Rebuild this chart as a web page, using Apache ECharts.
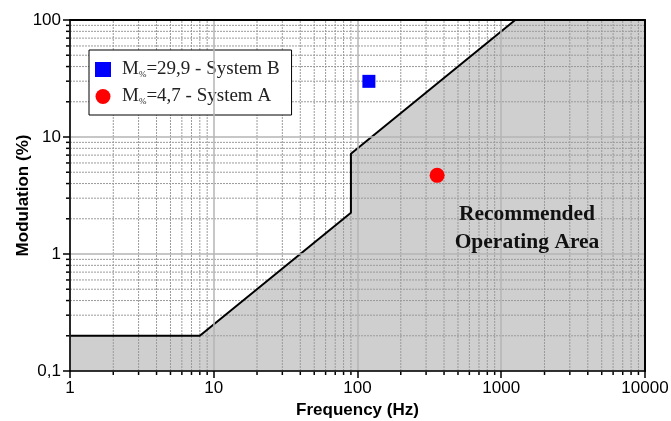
<!DOCTYPE html>
<html>
<head>
    <meta charset="utf-8">
    <title>Modulation vs Frequency</title>
    <script src="https://cdn.jsdelivr.net/npm/echarts@6.0.0/dist/echarts.min.js"></script>
    <style>
        html, body { margin: 0; padding: 0; background: #fff; }
        #main { width: 671px; height: 421px; }
    </style>
</head>
<body>
<div id="main"></div>
<script>
    // boundary of the recommended operating area
    var boundaryFreq = [1, 8, 90, 90, 1250, 10000];
    var boundaryMod = [0.2, 0.2, 2.25, 7.2, 100, 100];

    // measured systems
    var systemNames = ['=29,9 - System B', '=4,7 - System A'];
    var systemFreq = [120, 358];
    var systemMod = [29.9, 4.7];
    var systemColors = ['#0000ff', '#ff0000'];

    // minor grid values
    var steps = [2, 3, 4, 5, 6, 7, 8, 9];
    var xDecades = [1, 10, 100, 1000];
    var yDecades = [0.1, 1, 10];

    var xMinor = [];
    xDecades.forEach(function (d) { steps.forEach(function (s) { xMinor.push([d * s, 1]); }); });
    var yMinor = [];
    yDecades.forEach(function (d) { steps.forEach(function (s) { yMinor.push([1, +(d * s).toPrecision(3)]); }); });

    var boundary = boundaryFreq.map(function (f, i) { return [f, boundaryMod[i]]; });

    var chart = echarts.init(document.getElementById('main'));

    function minorX(params, api) {
        var v = api.value(0);
        var p0 = api.coord([v, 0.1]);
        var p1 = api.coord([v, 100]);
        return {
            type: 'group',
            children: [
                { type: 'line', shape: { x1: p0[0], y1: p0[1], x2: p1[0], y2: p1[1] },
                  style: { stroke: '#9a9a9a', lineWidth: 1, lineDash: [2, 1] } },
                { type: 'line', shape: { x1: p0[0], y1: p0[1], x2: p0[0], y2: p0[1] + 4 },
                  style: { stroke: '#000', lineWidth: 1.5 } }
            ]
        };
    }
    function minorY(params, api) {
        var v = api.value(1);
        var p0 = api.coord([1, v]);
        var p1 = api.coord([10000, v]);
        return {
            type: 'group',
            children: [
                { type: 'line', shape: { x1: p0[0], y1: p0[1], x2: p1[0], y2: p1[1] },
                  style: { stroke: '#9a9a9a', lineWidth: 1, lineDash: [2, 1] } },
                { type: 'line', shape: { x1: p0[0] - 4, y1: p0[1], x2: p0[0], y2: p0[1] },
                  style: { stroke: '#000', lineWidth: 1.5 } }
            ]
        };
    }

    var series = [
        {
            name: 'area', type: 'line', data: boundary, symbol: 'none', silent: true, z: 1,
            lineStyle: { width: 0 },
            areaStyle: { color: '#cfcfcf', opacity: 1, origin: 'start' }
        },
        { type: 'custom', data: xMinor, renderItem: minorX, clip: false, silent: true, z: 2 },
        { type: 'custom', data: yMinor, renderItem: minorY, clip: false, silent: true, z: 2 },
        {
            name: 'boundary', type: 'line', data: boundary, symbol: 'none', silent: true, z: 4,
            lineStyle: { color: '#000', width: 2 }
        }
    ];
    systemNames.forEach(function (n, i) {
        series.push({
            name: n, type: 'scatter', z: 5,
            data: [[systemFreq[i], systemMod[i]]],
            symbol: i === 0 ? 'rect' : 'circle',
            symbolSize: i === 0 ? 13 : 15,
            itemStyle: { color: systemColors[i], opacity: 1 }
        });
    });

    var option = {
        animation: false,
        grid: { left: 70, right: 26, top: 20, bottom: 50, containLabel: false, outerBoundsMode: 'none' },
        legend: {
            data: systemNames,
            orient: 'vertical',
            left: 89, top: 50,
            padding: [10, 12, 9, 6],
            itemGap: 8,
            itemWidth: 16, itemHeight: 15,
            backgroundColor: '#fff',
            borderColor: '#000', borderWidth: 1,
            formatter: function (name) { return '{m0|M}{s|%}{m|' + name + '}'; },
            textStyle: {
                rich: {
                    m0: { fontFamily: 'Liberation Serif', fontSize: 19, color: '#222', padding: [0, 0, 0, 6] },
                    m: { fontFamily: 'Liberation Serif', fontSize: 19, color: '#222' },
                    s: { fontFamily: 'Liberation Serif', fontSize: 9, color: '#222', padding: [10, 0, 0, 0] }
                }
            }
        },
        xAxis: [{
            type: 'log', logBase: 10, min: 1, max: 10000, z: 10,
            name: 'Frequency (Hz)', nameLocation: 'middle', nameGap: 31, nameMoveOverlap: false,
            nameTextStyle: { fontFamily: 'Liberation Sans', fontWeight: 'bold', fontSize: 17, color: '#000' },
            axisLine: { lineStyle: { color: '#000', width: 1.6 } },
            axisTick: { inside: false, length: 7, lineStyle: { color: '#000', width: 1.5 } },
            axisLabel: {
                fontFamily: 'Liberation Sans', fontSize: 17, color: '#000', margin: 9,
                formatter: function (v) { return String(Math.round(v)); }
            },
            splitLine: { show: true, lineStyle: { color: '#b4b4b4', width: 1.5 } }
        }, {
            type: 'log', logBase: 10, min: 1, max: 10000, position: 'top', z: 10,
            axisLine: { lineStyle: { color: '#000', width: 2 } },
            axisTick: { show: false }, axisLabel: { show: false }, splitLine: { show: false }
        }],
        yAxis: [{
            type: 'log', logBase: 10, min: 0.1, max: 100, z: 10,
            name: 'Modulation (%)', nameLocation: 'middle', nameGap: 38, nameMoveOverlap: false,
            nameTextStyle: { fontFamily: 'Liberation Sans', fontWeight: 'bold', fontSize: 17, color: '#000' },
            axisLine: { lineStyle: { color: '#000', width: 1.6 } },
            axisTick: { inside: false, length: 7, lineStyle: { color: '#000', width: 1.5 } },
            axisLabel: {
                fontFamily: 'Liberation Sans', fontSize: 17, color: '#000', margin: 9,
                formatter: function (v) { return String(+v.toPrecision(3)).replace('.', ','); }
            },
            splitLine: { show: true, lineStyle: { color: '#b4b4b4', width: 1.5 } }
        }, {
            type: 'log', logBase: 10, min: 0.1, max: 100, position: 'right', z: 10,
            axisLine: { lineStyle: { color: '#000', width: 2 } },
            axisTick: { show: false }, axisLabel: { show: false }, splitLine: { show: false }
        }],
        graphic: [{
            type: 'text', x: 527, y: 200, z: 20,
            style: {
                text: 'Recommended\nOperating Area',
                font: 'bold 21.5px "Liberation Serif"',
                fill: '#111', align: 'center', lineHeight: 28
            }
        }],
        series: series
    };
    option && chart.setOption(option);
</script>
</body>
</html>
